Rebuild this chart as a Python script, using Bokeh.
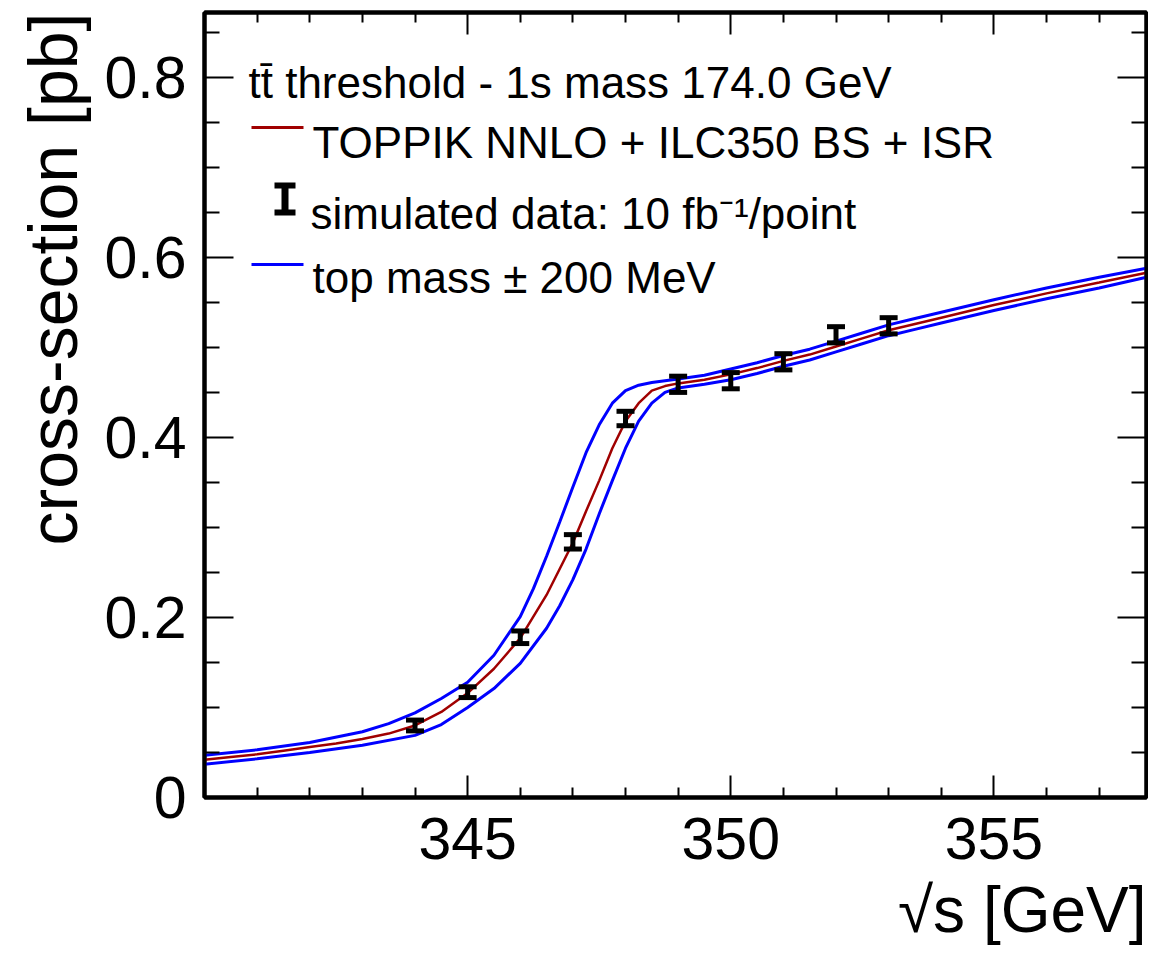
from bokeh.plotting import figure
from bokeh.models import (Range1d, FixedTicker, LinearAxis, Label, BoxAnnotation,
                          CustomJSTickFormatter, Title)
from bokeh.embed import file_html
from bokeh.resources import INLINE

# ---------------- data ----------------
# central prediction: TOPPIK NNLO + ILC350 BS + ISR, 1S mass 174.0 GeV
central_sqrt_s = [340, 340.5, 341, 341.5, 342, 342.5, 343, 343.5, 344, 344.5, 345, 345.5,
                  346, 346.5, 347, 347.25, 347.5, 347.75, 348, 348.25, 348.5, 348.75, 349,
                  349.5, 350, 350.5, 351, 351.5, 352, 352.5, 353, 353.5, 354, 355, 356, 357, 357.9]
central_xsec = [0.042, 0.045, 0.048, 0.052, 0.056, 0.060, 0.065, 0.071, 0.080, 0.095, 0.116, 0.143,
                0.177, 0.225, 0.283, 0.318, 0.352, 0.388, 0.418, 0.438, 0.452, 0.457, 0.460,
                0.464, 0.470, 0.477, 0.485, 0.492, 0.501, 0.510, 0.519, 0.526, 0.533, 0.547, 0.560, 0.572, 0.583]

# top mass - 200 MeV
low_sqrt_s = [340, 341, 342, 343, 343.5, 344, 344.5, 345, 345.5, 346, 346.25, 346.5, 346.75,
              347, 347.25, 347.5, 347.75, 348, 348.25, 348.5, 349, 349.5, 350, 350.5, 351,
              351.5, 352, 352.5, 353, 353.5, 354, 355, 356, 357, 357.9]
low_xsec = [0.047, 0.053, 0.061, 0.073, 0.082, 0.094, 0.110, 0.128, 0.158, 0.201, 0.232, 0.268, 0.306,
            0.345, 0.383, 0.414, 0.438, 0.452, 0.458, 0.461, 0.465, 0.469, 0.476, 0.483, 0.491,
            0.498, 0.507, 0.516, 0.525, 0.532, 0.539, 0.553, 0.566, 0.578, 0.588]

# top mass + 200 MeV
high_sqrt_s = [340, 341, 342, 343, 344, 344.5, 345, 345.5, 346, 346.5, 346.75, 347, 347.25,
               347.5, 347.75, 348, 348.25, 348.5, 348.75, 349, 349.5, 350, 350.5, 351, 351.5,
               352, 352.5, 353, 353.5, 354, 355, 356, 357, 357.9]
high_xsec = [0.037, 0.043, 0.050, 0.058, 0.069, 0.081, 0.100, 0.121, 0.149, 0.188, 0.213, 0.242, 0.276,
             0.315, 0.352, 0.388, 0.418, 0.438, 0.450, 0.455, 0.459, 0.464, 0.471, 0.479, 0.486,
             0.495, 0.504, 0.513, 0.520, 0.527, 0.541, 0.554, 0.566, 0.578]

# simulated data, 10 fb^-1 per point
data_sqrt_s = [344, 345, 346, 347, 348, 349, 350, 351, 352, 353]
data_xsec = [0.080, 0.117, 0.178, 0.284, 0.421, 0.459, 0.463, 0.484, 0.514, 0.524]
data_err = [0.006, 0.006, 0.007, 0.008, 0.008, 0.009, 0.009, 0.009, 0.009, 0.009]

x_major_ticks = [345, 350, 355]
x_minor_ticks = [341, 342, 343, 344, 346, 347, 348, 349, 351, 352, 353, 354, 356, 357]
y_major_ticks = [0, 0.2, 0.4, 0.6, 0.8]
y_tick_labels = ["0", "0.2", "0.4", "0.6", "0.8"]
y_minor_ticks = [0.05, 0.1, 0.15, 0.25, 0.3, 0.35, 0.45, 0.5, 0.55, 0.65, 0.7, 0.75, 0.85]

# ---------------- styling ----------------
FONT = "Liberation Sans"
RED = "#a00000"
BLUE = "#0000ff"

p = figure(width=1148, height=955, x_range=Range1d(340, 357.9), y_range=Range1d(0, 0.872),
           output_backend="svg", toolbar_location=None,
           min_border_left=204, min_border_right=2, min_border_top=12, min_border_bottom=158)
p.xgrid.visible = False
p.ygrid.visible = False
p.outline_line_color = "black"
p.outline_line_width = 4
p.outline_line_alpha = 1
p.background_fill_color = "white"
p.border_fill_color = "white"

xt = FixedTicker(ticks=x_major_ticks, minor_ticks=x_minor_ticks)
yt = FixedTicker(ticks=y_major_ticks, minor_ticks=y_minor_ticks)


def style_axis(ax, major_len, minor_len):
    ax.major_tick_in = major_len
    ax.major_tick_out = 0
    ax.minor_tick_in = minor_len
    ax.minor_tick_out = 0
    ax.major_tick_line_width = 2
    ax.minor_tick_line_width = 2
    ax.major_tick_line_color = "black"
    ax.minor_tick_line_color = "black"
    ax.axis_line_width = 4
    ax.axis_line_color = "black"


xax = p.xaxis[0]
xax.ticker = xt
style_axis(xax, 22, 10)
xax.major_label_text_font = FONT
xax.major_label_text_font_size = "59px"
xax.major_label_text_color = "black"
xax.major_label_standoff = 20

yax = p.yaxis[0]
yax.ticker = yt
style_axis(yax, 29, 15)
yax.major_label_text_font = FONT
yax.major_label_text_font_size = "59px"
yax.major_label_text_color = "black"
yax.major_label_standoff = 18
yax.major_label_overrides = {t: s for t, s in zip(y_major_ticks, y_tick_labels)}

blank = CustomJSTickFormatter(code="return ''")
top_ax = LinearAxis(ticker=xt, formatter=blank, major_label_text_font_size="0px",
                    major_label_standoff=0)
style_axis(top_ax, 22, 10)
p.add_layout(top_ax, "above")
right_ax = LinearAxis(ticker=yt, formatter=blank, major_label_text_font_size="0px",
                      major_label_standoff=0)
style_axis(right_ax, 29, 15)
p.add_layout(right_ax, "right")

# axis titles (right/top aligned, as in the original)
p.add_layout(Title(text="\u221as [GeV]", align="right", text_font=FONT, text_font_size="64px",
                   text_font_style="normal", text_color="black", standoff=20), "below")
p.add_layout(Title(text="cross-section [pb]", align="right", text_font=FONT, text_font_size="68px",
                   text_font_style="normal", text_color="black", standoff=22), "left")

# ---------------- curves ----------------
p.line(low_sqrt_s, low_xsec, line_color=BLUE, line_width=3)
p.line(high_sqrt_s, high_xsec, line_color=BLUE, line_width=3)
p.line(central_sqrt_s, central_xsec, line_color=RED, line_width=2.5)

lo = [y - e for y, e in zip(data_xsec, data_err)]
hi = [y + e for y, e in zip(data_xsec, data_err)]
p.segment(x0=data_sqrt_s, y0=lo, x1=data_sqrt_s, y1=hi, line_color="black", line_width=5)
p.scatter(x=data_sqrt_s, y=lo, marker="dash", size=18, line_color="black", line_width=5)
p.scatter(x=data_sqrt_s, y=hi, marker="dash", size=18, line_color="black", line_width=5)


# ---------------- legend texts (screen units relative to frame bottom-left) ----------------
def add_text(txt, sx, sy, size, align="left", angle=0.0):
    p.add_layout(Label(x=sx, y=sy, x_units="screen", y_units="screen", text=txt,
                       text_font=FONT, text_font_size=size, text_color="black",
                       text_align=align, text_baseline="alphabetic", angle=angle))


def add_box(l, r, b, t, color):
    p.add_layout(BoxAnnotation(left=l, right=r, bottom=b, top=t,
                               left_units="screen", right_units="screen",
                               bottom_units="screen", top_units="screen",
                               fill_color=color, fill_alpha=1, line_color=None))


add_text("tt\u0304 threshold - 1s mass 174.0 GeV", 44, 715, "44px")
add_box(47, 99, 668.5, 671.5, RED)
add_text("TOPPIK NNLO + ILC350 BS + ISR", 108, 655, "44px")
# error-bar symbol
add_box(77, 84, 583, 614, "black")
add_box(70, 91, 609, 615, "black")
add_box(70, 91, 582, 588, "black")
add_text("simulated data: 10 fb\u207b\u00b9/point", 106, 584, "44px")
add_box(47, 99, 531.5, 534.5, BLUE)
add_text("top mass \u00b1 200 MeV", 108, 520, "44px")

open("out.html", "w").write(file_html(p, INLINE))
